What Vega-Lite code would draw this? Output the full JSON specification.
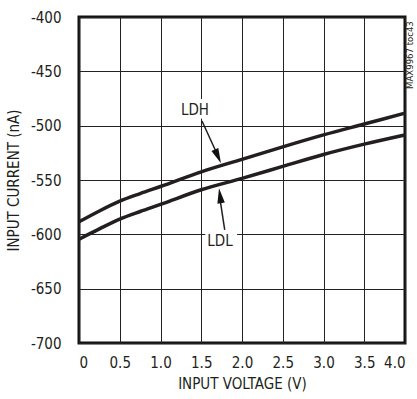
{
  "$schema": "https://vega.github.io/schema/vega-lite/v6.json",
  "width": 326,
  "height": 326,
  "autosize": {"type": "none"},
  "padding": {"left": 79, "top": 17, "right": 12, "bottom": 56},
  "background": "white",
  "config": {
    "view": {"stroke": "#111", "strokeWidth": 3},
    "font": "DejaVu Sans Condensed, Liberation Sans, sans-serif",
    "axis": {
      "labelFont": "DejaVu Sans Condensed, Liberation Sans, sans-serif",
      "titleFont": "DejaVu Sans Condensed, Liberation Sans, sans-serif",
      "labelFontSize": 15,
      "titleFontSize": 15,
      "titleFontWeight": "normal",
      "labelColor": "#231f20",
      "titleColor": "#231f20",
      "ticks": false,
      "domain": false,
      "grid": true,
      "gridColor": "#222",
      "gridWidth": 1,
      "gridOpacity": 1
    }
  },
  "datasets": {
    "curves": [
      {"series": "LDH", "x": 0, "y": -588.5},
      {"series": "LDH", "x": 0.25, "y": -578.5},
      {"series": "LDH", "x": 0.5, "y": -569.5},
      {"series": "LDH", "x": 0.75, "y": -562.5},
      {"series": "LDH", "x": 1.0, "y": -556},
      {"series": "LDH", "x": 1.5, "y": -542.5},
      {"series": "LDH", "x": 2.0, "y": -531},
      {"series": "LDH", "x": 2.5, "y": -519.5},
      {"series": "LDH", "x": 3.0, "y": -508.5},
      {"series": "LDH", "x": 3.5, "y": -498.5},
      {"series": "LDH", "x": 4.0, "y": -488.5},
      {"series": "LDL", "x": 0, "y": -604.5},
      {"series": "LDL", "x": 0.25, "y": -595},
      {"series": "LDL", "x": 0.5, "y": -586},
      {"series": "LDL", "x": 0.75, "y": -579},
      {"series": "LDL", "x": 1.0, "y": -572.5},
      {"series": "LDL", "x": 1.5, "y": -559},
      {"series": "LDL", "x": 2.0, "y": -548.5},
      {"series": "LDL", "x": 2.5, "y": -537.5},
      {"series": "LDL", "x": 3.0, "y": -526.5},
      {"series": "LDL", "x": 3.5, "y": -517},
      {"series": "LDL", "x": 4.0, "y": -508.5}
    ],
    "boxes": [
      {"x": 1.24, "x2": 1.61, "y": -475.5, "y2": -493.5},
      {"x": 1.55, "x2": 1.94, "y": -593.5, "y2": -614.5}
    ],
    "arrows": [
      {"series": "LDH", "x": 1.509, "y": -495.7, "x2": 1.70, "y2": -527},
      {"series": "LDL", "x": 1.788, "y": -596, "x2": 1.725, "y2": -565}
    ],
    "headH": [{"x": 1.742, "y": -534.6}],
    "headL": [{"x": 1.718, "y": -557.6}],
    "labels": [
      {"x": 1.423, "y": -485.6, "label": "LDH"},
      {"x": 1.730, "y": -606.1, "label": "LDL"}
    ],
    "code": [{"x": 4.064, "y": -435, "label": "MAX9967 toc43"}]
  },
  "layer": [
    {
      "data": {"name": "curves"},
      "mark": {"type": "line", "color": "#231f20", "strokeWidth": 3.5, "interpolate": "monotone"},
      "encoding": {
        "x": {
          "field": "x", "type": "quantitative",
          "scale": {"domain": [0, 4], "nice": false, "zero": false},
          "axis": {
            "values": [0, 0.5, 1, 1.5, 2, 2.5, 3, 3.5, 4],
            "labelExpr": "datum.value == 0 ? '0' : format(datum.value, '.1f')",
            "title": "INPUT VOLTAGE (V)",
            "labelPadding": 12,
            "titlePadding": 6
          }
        },
        "y": {
          "field": "y", "type": "quantitative",
          "scale": {"domain": [-700, -400], "nice": false, "zero": false},
          "axis": {
            "values": [-700, -650, -600, -550, -500, -450, -400],
            "labelExpr": "'' + datum.value",
            "title": "INPUT CURRENT (nA)",
            "labelPadding": 18,
            "titlePadding": 9
          }
        },
        "detail": {"field": "series", "type": "nominal"}
      }
    },
    {
      "data": {"name": "boxes"},
      "mark": {"type": "rect", "color": "white"},
      "encoding": {
        "x": {"field": "x", "type": "quantitative"},
        "x2": {"field": "x2"},
        "y": {"field": "y", "type": "quantitative"},
        "y2": {"field": "y2"}
      }
    },
    {
      "data": {"name": "arrows"},
      "mark": {"type": "rule", "color": "#231f20", "strokeWidth": 1.5},
      "encoding": {
        "x": {"field": "x", "type": "quantitative"},
        "x2": {"field": "x2"},
        "y": {"field": "y", "type": "quantitative"},
        "y2": {"field": "y2"}
      }
    },
    {
      "data": {"name": "headH"},
      "mark": {"type": "point", "shape": "M0,0L-0.5,-2L0.5,-2Z", "size": 225, "filled": true, "color": "#111", "opacity": 1, "angle": -24},
      "encoding": {
        "x": {"field": "x", "type": "quantitative"},
        "y": {"field": "y", "type": "quantitative"}
      }
    },
    {
      "data": {"name": "headL"},
      "mark": {"type": "point", "shape": "M0,0L-0.5,-2L0.5,-2Z", "size": 225, "filled": true, "color": "#111", "opacity": 1, "angle": 172},
      "encoding": {
        "x": {"field": "x", "type": "quantitative"},
        "y": {"field": "y", "type": "quantitative"}
      }
    },
    {
      "data": {"name": "labels"},
      "mark": {"type": "text", "fontSize": 15, "color": "#231f20", "align": "center", "baseline": "middle", "font": "DejaVu Sans Condensed, Liberation Sans, sans-serif"},
      "encoding": {
        "x": {"field": "x", "type": "quantitative"},
        "y": {"field": "y", "type": "quantitative"},
        "text": {"field": "label"}
      }
    },
    {
      "data": {"name": "code"},
      "mark": {"type": "text", "fontSize": 9.5, "color": "#231f20", "align": "center", "baseline": "middle", "angle": 270, "clip": false, "font": "DejaVu Sans Condensed, Liberation Sans, sans-serif"},
      "encoding": {
        "x": {"field": "x", "type": "quantitative"},
        "y": {"field": "y", "type": "quantitative"},
        "text": {"field": "label"}
      }
    }
  ]
}
